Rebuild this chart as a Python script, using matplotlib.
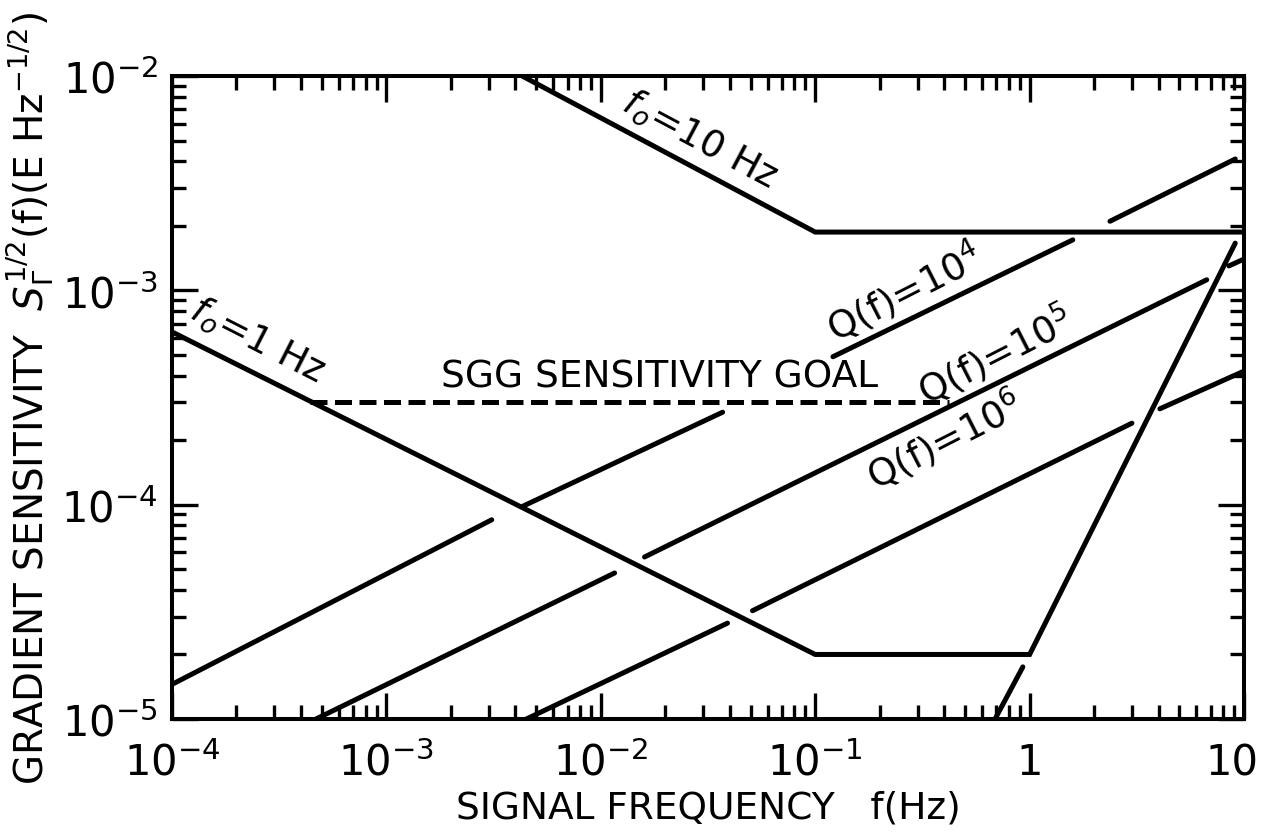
import matplotlib
matplotlib.use('Agg')
import matplotlib.pyplot as plt
from matplotlib.ticker import FixedLocator, LogLocator, NullFormatter
from matplotlib.transforms import ScaledTranslation

plt.rcParams['font.family'] = ['DejaVu Sans']
plt.rcParams['mathtext.fontset'] = 'dejavusans'

# gradiometer noise curves
freq_f1 = [1e-4, 0.1, 1.0, 9.1]
sens_f1 = [6.4e-4, 2e-5, 2e-5, 1.66e-3]
freq_f1_tail = [0.69, 0.93]
sens_f1_tail = [1e-5, 1.75e-5]

freq_f10 = [4.3e-3, 0.1, 10]
sens_f10 = [1e-2, 1.87e-3, 1.87e-3]

freq_goal = [4.4e-4, 0.42]
sens_goal = [3e-4, 3e-4]

# thermal noise lines, drawn as broken segments (start, end)
q4_freq = [(1e-4, 3.1e-3), (4.3e-3, 0.037), (0.121, 1.59), (2.37, 9.1)]
q4_sens = [(1.45e-5, 8.5e-5), (9.8e-5, 2.7e-4), (4.9e-4, 1.72e-3), (2.1e-3, 4.1e-3)]
q5_freq = [(4.7e-4, 0.0116), (0.016, 6.7), (8.5, 10)]
q5_sens = [(1e-5, 4.8e-5), (5.7e-5, 1.12e-3), (1.3e-3, 1.4e-3)]
q6_freq = [(4.5e-3, 0.039), (0.051, 3.0), (4.05, 10)]
q6_sens = [(1e-5, 2.8e-5), (3.2e-5, 2.4e-4), (2.8e-4, 4.2e-4)]

x_ticks = [1e-4, 1e-3, 1e-2, 1e-1, 1, 10]
x_tick_labels = [r'$10^{-4}$', r'$10^{-3}$', r'$10^{-2}$', r'$10^{-1}$', '1', '10']
y_ticks = [1e-5, 1e-4, 1e-3, 1e-2]
y_tick_labels = [r'$10^{-5}$', r'$10^{-4}$', r'$10^{-3}$', r'$10^{-2}$']

LW = 3.6

fig = plt.figure(figsize=(12.68, 8.37), dpi=100)
ax = fig.add_axes([0.1356, 0.1398, 0.8455, 0.7682])
ax.set_xscale('log')
ax.set_yscale('log')
ax.set_xlim(1e-4, 10)
ax.set_ylim(1e-5, 1e-2)

kw = dict(color='black', lw=LW, solid_capstyle='round', solid_joinstyle='miter')
ax.plot(freq_f1, sens_f1, **kw)
ax.plot(freq_f1_tail, sens_f1_tail, **kw)
ax.plot(freq_f10, sens_f10, **kw)
ax.plot(freq_goal, sens_goal, color='black', lw=LW, linestyle=(0, (3.4, 1.5)))

for fr, sv in [(q4_freq, q4_sens), (q5_freq, q5_sens), (q6_freq, q6_sens)]:
    for (f0, f1), (s0, s1) in zip(fr, sv):
        ax.plot([f0, f1], [s0, s1], **kw)

tkw = dict(ha='center', va='center', rotation_mode='anchor', fontsize=27)
ax.text(0.029, 5.1e-3, r'$f_o$=10 Hz', rotation=-28, **tkw)
ax.text(2.5e-4, 5.9e-4, r'$f_o$=1 Hz', rotation=-27, **tkw)
ax.text(0.0189, 3.98e-4, 'SGG SENSITIVITY GOAL', **tkw)
ax.text(0.26, 1.0e-3, r'Q(f)=10$^4$', rotation=27, **tkw)
ax.text(0.69, 5.05e-4, r'Q(f)=10$^5$', rotation=27, **tkw)
ax.text(0.40, 2.02e-4, r'Q(f)=10$^6$', rotation=27, **tkw)

ax.xaxis.set_major_locator(FixedLocator(x_ticks))
ax.set_xticklabels(x_tick_labels)
ax.yaxis.set_major_locator(FixedLocator(y_ticks))
ax.set_yticklabels(y_tick_labels)
for axis in (ax.xaxis, ax.yaxis):
    axis.set_minor_locator(LogLocator(base=10, subs=range(2, 10), numticks=20))
    axis.set_minor_formatter(NullFormatter())

ax.tick_params(which='both', direction='in', top=True, right=True, width=2.4)
ax.tick_params(which='major', length=19, labelsize=30)
ax.tick_params(axis='x', which='major', pad=16)
ax.tick_params(axis='y', which='major', pad=10)
ax.tick_params(which='minor', length=10)
for sp in ax.spines.values():
    sp.set_linewidth(2.9)

# last x label sits a little left of its tick, as in the original
last = ax.get_xticklabels()[-1]
last.set_transform(last.get_transform() + ScaledTranslation(-0.12, 0, fig.dpi_scale_trans))

ax.set_xlabel('SIGNAL FREQUENCY   f(Hz)', fontsize=27, labelpad=4)
ax.set_ylabel(r'GRADIENT SENSITIVITY  $S_\Gamma^{1/2}$(f)(E Hz$^{-1/2}$)', fontsize=28, labelpad=4)

fig.savefig('out.png', dpi=100)
